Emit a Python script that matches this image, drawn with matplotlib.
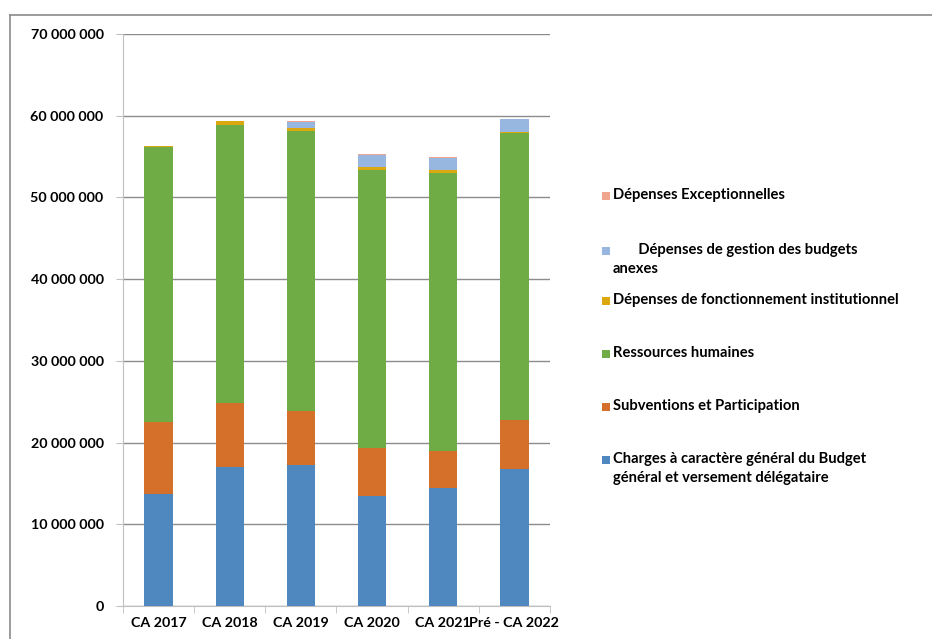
import numpy as np
import matplotlib
matplotlib.use("Agg")
import matplotlib.pyplot as plt
from matplotlib.lines import Line2D
from matplotlib.patches import Rectangle
from matplotlib.ticker import FuncFormatter

plt.rcParams['font.family'] = ['Lato', 'DejaVu Sans']

categories = ["CA 2017", "CA 2018", "CA 2019", "CA 2020", "CA 2021", "Pré - CA 2022"]

# montants en euros, par poste
charges_generales = [13.76e6, 17.03e6, 17.24e6, 13.52e6, 14.42e6, 16.79e6]
subventions = [8.70e6, 7.81e6, 6.66e6, 5.84e6, 4.49e6, 6.00e6]
ressources_humaines = [33.70e6, 33.98e6, 34.19e6, 33.95e6, 34.07e6, 35.14e6]
fonct_institutionnel = [0.13e6, 0.53e6, 0.45e6, 0.41e6, 0.33e6, 0.05e6]
budgets_annexes = [0.0, 0.0, 0.69e6, 1.43e6, 1.51e6, 1.60e6]
exceptionnelles = [0.02e6, 0.0, 0.12e6, 0.20e6, 0.08e6, 0.0]

series = [
    ("Charges à caractère général du Budget\ngénéral et versement délégataire", charges_generales, "#4F87BF"),
    ("Subventions et Participation", subventions, "#D4702A"),
    ("Ressources humaines", ressources_humaines, "#6FAC46"),
    ("Dépenses de fonctionnement institutionnel", fonct_institutionnel, "#DBA90F"),
    ("       Dépenses de gestion des budgets\nanexes", budgets_annexes, "#97B7E0"),
    ("Dépenses Exceptionnelles", exceptionnelles, "#F0A58E"),
]

fig = plt.figure(figsize=(9.32, 6.39), dpi=100)
ax = fig.add_axes([123 / 932, 33 / 639, 427 / 932, 572 / 639])

x = np.arange(len(categories))
bottom = np.zeros(len(categories))
for label, vals, col in series:
    ax.bar(x, vals, width=0.4, bottom=bottom, color=col, zorder=3)
    bottom += np.array(vals)

ax.set_xlim(-0.5, len(categories) - 0.5)
ax.set_ylim(0, 70e6)
ax.set_yticks(np.arange(0, 70e6 + 1, 10e6))
ax.yaxis.set_major_formatter(FuncFormatter(lambda v, p: f"{int(v):,}".replace(",", " ")))
ax.yaxis.grid(True, color="#8c8c8c", linewidth=1, zorder=0)

ax.set_xticks(x)
ax.set_xticklabels(categories)
ax.set_xticks(np.arange(-0.5, len(categories)), minor=True)
ax.tick_params(axis="x", which="major", length=0, pad=8)
ax.tick_params(axis="x", which="minor", length=5, color="#bfbfbf", direction="out")
ax.tick_params(axis="y", length=5, color="#bfbfbf", pad=9)
for lab in ax.get_xticklabels() + ax.get_yticklabels():
    lab.set_fontweight("bold")
    lab.set_fontsize(10.3)
    lab.set_color("black")

for side in ["top", "right"]:
    ax.spines[side].set_visible(False)
ax.spines["left"].set_color("#bfbfbf")
ax.spines["bottom"].set_color("#bfbfbf")

# legende dessinee a la main, de haut en bas
W, H = 932, 639
leg_y = [196, 251, 301, 354, 407, 460]
for (label, vals, col), yy in zip(series[::-1], leg_y):
    fig.add_artist(Rectangle((602 / W, 1 - (yy + 4) / H), 8 / W, 8 / H,
                             transform=fig.transFigure, color=col, lw=0))
    fig.text(613 / W, 1 - (yy - 8) / H, label, fontsize=10.6, fontweight="bold",
             color="black", va="top", ha="left", linespacing=1.45)

# cadre du graphique
fig.add_artist(Line2D([10 / W, 1], [1 - 15 / H, 1 - 15 / H], transform=fig.transFigure,
                      color="#8a8a8a", lw=1.2))
fig.add_artist(Line2D([10 / W, 10 / W], [0, 1 - 15 / H], transform=fig.transFigure,
                      color="#8a8a8a", lw=1.2))

fig.savefig("out.png", dpi=100)
